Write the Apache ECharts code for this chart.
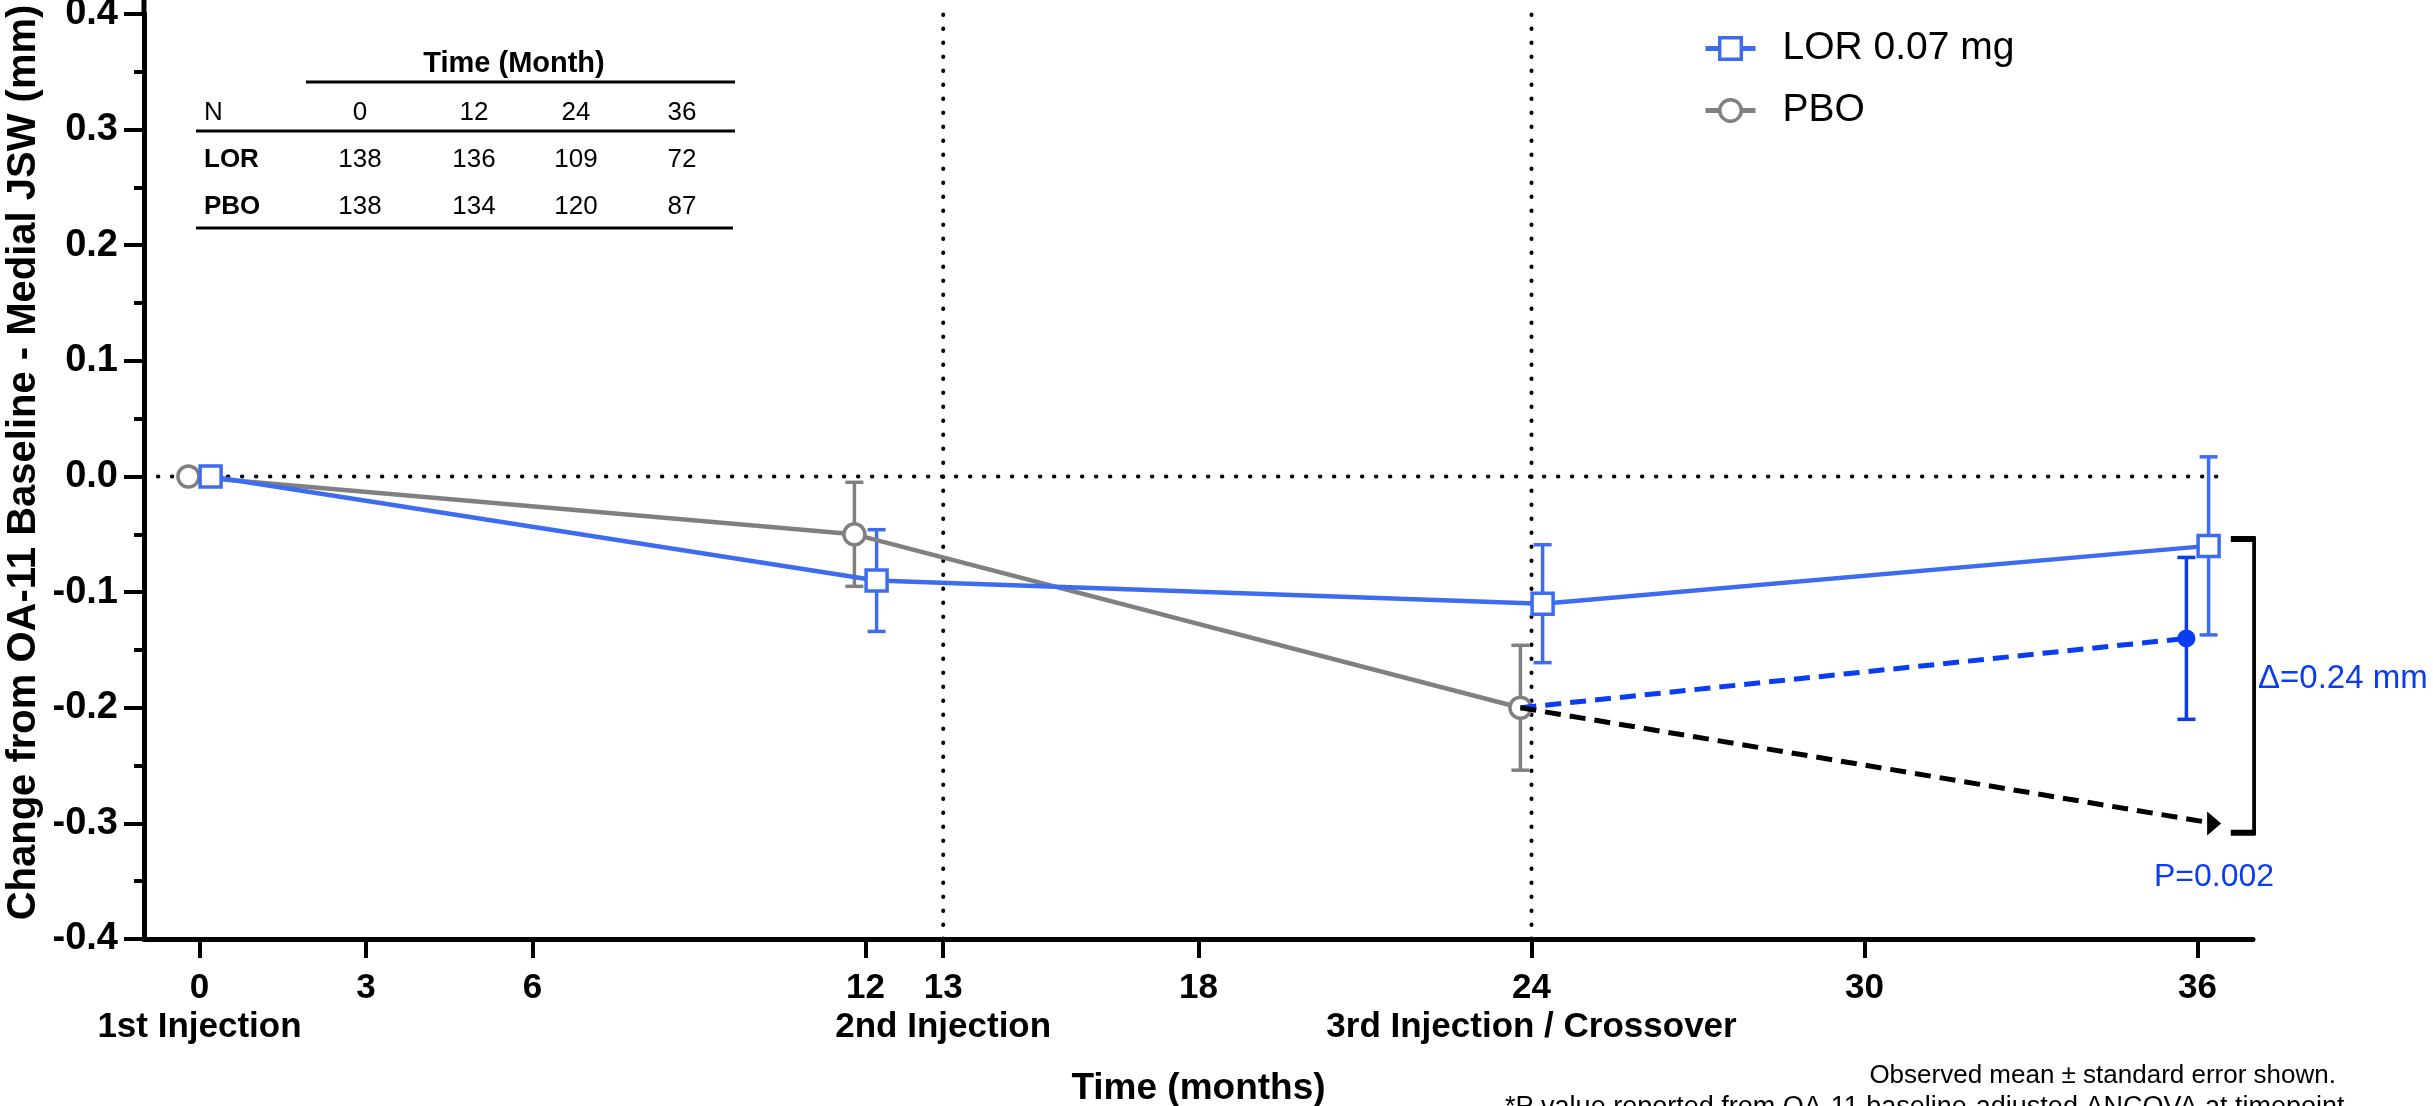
<!DOCTYPE html>
<html>
<head>
<meta charset="utf-8">
<script src="https://cdn.jsdelivr.net/npm/echarts@6/dist/echarts.min.js"></script>
<style>
  html, body { margin: 0; padding: 0; background: #fff; }
  #chart { width: 2433px; height: 1106px; }
</style>
</head>
<body>
<div id="chart"></div>
<script>
  // months of the visits and the custom tick marks on the time axis
  const months = [0, 12, 24, 36];
  const tickPos = [0, 3, 6, 12, 13.4, 18, 24, 30, 36];
  const tickLabels = ['0\n1st Injection', '3', '6', '12', '13\n2nd Injection', '18',
    '24\n3rd Injection / Crossover', '30', '36'];

  // observed mean and standard error
  const lorMean = [0, -0.09, -0.11, -0.06];
  const lorSE = [0, 0.044, 0.051, 0.077];
  const pboMean = [0, -0.05, -0.20];
  const pboSE = [0, 0.045, 0.054];
  // PBO -> LOR crossover at month 36, and projected PBO
  const crossMean = -0.14;
  const crossSE = 0.07;
  const projected = -0.30;

  // N table
  const tableMonths = ['0', '12', '24', '36'];
  const nLor = [138, 136, 109, 72];
  const nPbo = [138, 134, 120, 87];

  const FONT = '"Liberation Sans", Arial, Helvetica, sans-serif';
  const BLUE = '#3d6cf0';
  const BLUE2 = '#0a3cf2';
  const GREY = '#808080';
  const shift = 0.2; // groups are nudged so the bars don't overlap

  const lorPts = months.map((m, i) => [m + shift, lorMean[i]]);
  const pboPts = pboMean.map((v, i) => [months[i] - shift, v]);

  const errData = (pts, se) => pts
    .map((p, i) => [p[0], p[1] - se[i], p[1] + se[i]])
    .filter((d, i) => se[i] > 0);

  function errorBars(name, data, color) {
    return {
      type: 'custom',
      name: name + ' SE',
      z: 2,
      data: data,
      encode: { x: 0, y: [1, 2] },
      silent: true,
      renderItem: function (params, api) {
        const x = api.value(0);
        const lo = api.coord([x, api.value(1)]);
        const hi = api.coord([x, api.value(2)]);
        const hw = 9;
        const st = { stroke: color, lineWidth: 3.5 };
        return {
          type: 'group',
          children: [
            { type: 'line', shape: { x1: lo[0], y1: lo[1], x2: hi[0], y2: hi[1] }, style: st },
            { type: 'line', shape: { x1: lo[0] - hw, y1: lo[1], x2: lo[0] + hw, y2: lo[1] }, style: st },
            { type: 'line', shape: { x1: hi[0] - hw, y1: hi[1], x2: hi[0] + hw, y2: hi[1] }, style: st }
          ]
        };
      }
    };
  }

  const dotted = { color: '#000', width: 4, type: [0.5, 13.5], cap: 'round' };
  function refLine(data) {
    return { type: 'line', data: data, symbol: 'none', silent: true, z: 1, lineStyle: dotted };
  }

  const crossStart = pboPts[2];
  const crossEnd = [36 - shift, crossMean];
  const projEnd = [36 + 0.3, projected];

  // table graphics
  const tbl = [];
  const colX = [360, 474, 576, 682];
  const hline = (x1, x2, y) => ({
    type: 'line', shape: { x1: x1, y1: y, x2: x2, y2: y }, style: { stroke: '#000', lineWidth: 3 }
  });
  const cell = (x, y, s, bold, align, size) => ({ type: 'text', x: x, y: y,
    style: { text: s, font: (bold ? 'bold ' : '') + (size || 26) + 'px ' + FONT, fill: '#000',
      textAlign: align || 'center', textVerticalAlign: 'middle' } });
  tbl.push(cell(514, 64, 'Time (Month)', true, 'center', 29));
  tbl.push(hline(306, 735, 82));
  tbl.push(hline(196, 735, 131));
  tbl.push(hline(196, 733, 228));
  tbl.push(cell(204, 113, 'N', false, 'left'));
  tbl.push(cell(204, 160, 'LOR', true, 'left'));
  tbl.push(cell(204, 207, 'PBO', true, 'left'));
  tableMonths.forEach((m, i) => {
    tbl.push(cell(colX[i], 113, m));
    tbl.push(cell(colX[i], 160, String(nLor[i])));
    tbl.push(cell(colX[i], 207, String(nPbo[i])));
  });

  const option = {
    animation: false,
    backgroundColor: '#fff',
    textStyle: { fontFamily: FONT },
    grid: { left: 144, right: 180, top: 14, bottom: 167, outerBoundsMode: 'none', containLabel: false },
    legend: {
      data: ['LOR 0.07 mg', 'PBO'],
      orient: 'vertical',
      left: 1698,
      top: 24,
      itemWidth: 50,
      itemHeight: 27,
      itemGap: 23,
      lineStyle: { width: 5 },
      itemStyle: { borderWidth: 3.5 },
      textStyle: { fontSize: 39, color: '#000', padding: [0, 0, 0, 22], fontFamily: FONT }
    },
    xAxis: {
      type: 'value',
      min: -1,
      max: 37,
      name: 'Time (months)',
      nameLocation: 'middle',
      nameGap: 131,
      nameMoveOverlap: false,
      nameTextStyle: { fontSize: 37, fontWeight: 'bold', color: '#000', fontFamily: FONT },
      axisLine: { onZero: false, lineStyle: { color: '#000', width: 5 } },
      axisTick: { customValues: tickPos, length: 19, lineStyle: { color: '#000', width: 4 } },
      axisLabel: {
        customValues: tickPos,
        formatter: v => tickLabels[tickPos.indexOf(v)] || '',
        fontSize: 35, fontWeight: 'bold', color: '#000', lineHeight: 39, margin: 30,
        fontFamily: FONT
      },
      splitLine: { show: false }
    },
    yAxis: {
      type: 'value',
      min: -0.4,
      max: 0.4,
      interval: 0.1,
      name: 'Change from OA-11 Baseline - Medial JSW (mm)',
      nameLocation: 'middle',
      nameGap: 100,
      nameMoveOverlap: false,
      nameTextStyle: { fontSize: 40, fontWeight: 'bold', color: '#000', fontFamily: FONT,
        padding: [0, 0, 0, 28] },
      axisLine: { show: true, onZero: false, lineStyle: { color: '#000', width: 5 } },
      axisTick: { length: 20, lineStyle: { color: '#000', width: 4 } },
      minorTick: { show: true, splitNumber: 2, length: 10, lineStyle: { color: '#000', width: 4 } },
      axisLabel: {
        formatter: v => v.toFixed(1),
        fontSize: 38, fontWeight: 'bold', color: '#000', margin: 26, fontFamily: FONT
      },
      splitLine: { show: false }
    },
    series: [
      refLine([[-0.75, 0], [36.5, 0]]),
      refLine([[13.4, -0.4], [13.4, 0.4]]),
      refLine([[24, -0.4], [24, 0.4]]),
      errorBars('PBO', errData(pboPts, pboSE), GREY),
      errorBars('LOR', errData(lorPts, lorSE), BLUE),
      errorBars('Cross', [[crossEnd[0], crossMean - crossSE, crossMean + crossSE]], BLUE2),
      {
        name: 'PBO',
        type: 'line',
        data: pboPts,
        z: 3,
        symbol: 'circle',
        symbolSize: 21,
        color: GREY,
        itemStyle: { color: '#fff', borderColor: GREY, borderWidth: 3.5 },
        lineStyle: { color: GREY, width: 4.5 }
      },
      {
        name: 'LOR 0.07 mg',
        type: 'line',
        data: lorPts,
        z: 4,
        symbol: 'rect',
        symbolSize: 21,
        color: BLUE,
        itemStyle: { color: '#fff', borderColor: BLUE, borderWidth: 3.5 },
        lineStyle: { color: BLUE, width: 4.5 }
      },
      {
        name: 'crossover',
        type: 'line',
        z: 4,
        data: [{ value: crossStart, symbol: 'none' }, { value: crossEnd }],
        symbol: 'circle',
        symbolSize: 18,
        itemStyle: { color: BLUE2 },
        lineStyle: { color: BLUE2, width: 5, type: [16, 9] }
      },
      {
        name: 'projected',
        type: 'line',
        z: 4,
        data: [{ value: crossStart, symbol: 'none' }, { value: projEnd }],
        symbol: 'path://M0,0L1,0.5L0,1Z',
        symbolSize: [14, 24],
        symbolKeepAspect: false,
        itemStyle: { color: '#000' },
        lineStyle: { color: '#000', width: 5, type: [16, 9] }
      },
      {
        name: 'bracket',
        type: 'line',
        z: 4,
        symbol: 'none',
        silent: true,
        clip: false,
        data: [[36.6, lorMean[3] + 0.006], [37.04, lorMean[3] + 0.006],
          [37.04, projected - 0.008], [36.6, projected - 0.008]],
        lineStyle: { color: '#000', width: 6 }
      }
    ],
    graphic: tbl.concat([
      // y axis line runs slightly past the top tick
      { type: 'line', shape: { x1: 144, y1: 0, x2: 144, y2: 16 }, style: { stroke: '#000', lineWidth: 5 } },
      { type: 'text', x: 2258, y: 679, style: { text: '\u0394=0.24 mm', font: '33px ' + FONT,
        fill: BLUE2, textAlign: 'left', textVerticalAlign: 'middle' } },
      { type: 'text', x: 2154, y: 877, style: { text: 'P=0.002', font: '32px ' + FONT,
        fill: BLUE2, textAlign: 'left', textVerticalAlign: 'middle' } },
      { type: 'text', x: 2336, y: 1076, style: { text: 'Observed mean \u00b1 standard error shown.',
        font: '26px ' + FONT, fill: '#000', textAlign: 'right', textVerticalAlign: 'middle' } },
      { type: 'text', x: 2352, y: 1108, style: {
        text: '*P value reported from OA-11 baseline-adjusted ANCOVA at timepoint.',
        font: '27px ' + FONT, fill: '#000', textAlign: 'right', textVerticalAlign: 'middle' } }
    ])
  };

  const chart = echarts.init(document.getElementById('chart'));
  chart.setOption(option);
  window.addEventListener('resize', () => chart.resize());
</script>
</body>
</html>
